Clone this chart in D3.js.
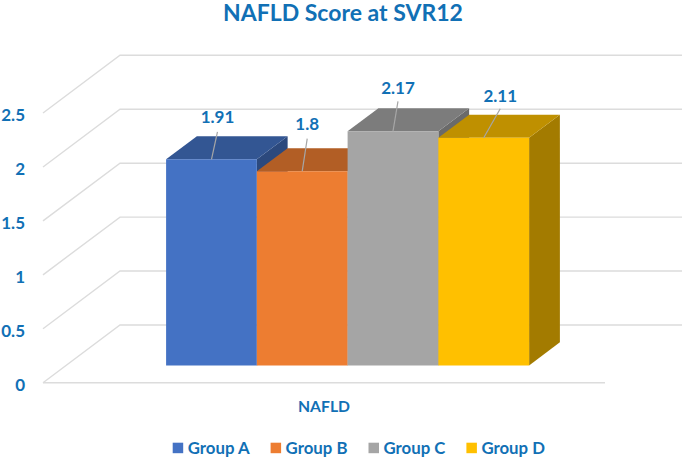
<!DOCTYPE html>
<html>
<head>
<meta charset="utf-8">
<script src="https://cdn.jsdelivr.net/npm/d3@7"></script>
<style>
	html, body { margin: 0; padding: 0; background: #fff; }
	svg { display: block; }
	text { font-family: Lato, "Open Sans", sans-serif; font-weight: 700; fill: #1170b5; }
</style>
</head>
<body>
<div id="chart"></div>
<script>
const title = 'NAFLD Score at SVR12';
const category = 'NAFLD';
const groups = ['Group A', 'Group B', 'Group C', 'Group D'];
const values = [1.91, 1.8, 2.17, 2.11];
const yTicks = [0, 0.5, 1, 1.5, 2, 2.5];
const colors = ['#4472c4', '#ed7d31', '#a5a5a5', '#ffc000'];

const width = 685;
const height = 459;

// floor of the 3d box, front edge to back edge
const floorLeft = 43;
const floorRight = 605;
const depthX = 77;
const depthY = 57.7;
// bars stand in the middle of the floor depth
const barFront = 0.3;
const barBack = 0.7;

const svg = d3
	.select('#chart')
	.append('svg')
	.attr('width', width)
	.attr('height', height);

const y = d3.scaleLinear().domain([0, 2.5]).range([382.7, 113]);
const x = d3.scaleBand().domain(groups).range([143, 506]).padding(0);

// project a point (floor x, value, depth 0..1) onto the page
const project = (px, value, depth) => [
	px + depth * depthX,
	y(value) - depth * depthY,
];

const shade = (color, k) => {
	const c = d3.rgb(color);
	return d3.rgb(c.r * k, c.g * k, c.b * k).formatHex();
};

const line = d3.line();

// gridlines run up the left wall and along the back wall
svg.append('g')
	.selectAll('path')
	.data(yTicks)
	.enter()
	.append('path')
	.attr('d', d =>
		line([
			project(floorLeft, d, 0),
			project(floorLeft, d, 1),
			project(floorRight, d, 1),
		])
	)
	.attr('fill', 'none')
	.attr('stroke', '#dcdcdc')
	.attr('stroke-width', 1.4);

svg.append('path')
	.attr('d', line([project(floorLeft, 0, 0), project(floorRight, 0, 0)]))
	.attr('fill', 'none')
	.attr('stroke', '#dcdcdc')
	.attr('stroke-width', 1.4);

const yAxis = svg
	.append('g')
	.attr('transform', 'translate(25, 2)')
	.call(
		d3
			.axisLeft(y)
			.tickValues(yTicks)
			.tickFormat(d => d)
			.tickSize(0)
			.tickPadding(0)
	);
yAxis.select('.domain').remove();
yAxis.selectAll('text').style('font-size', '17px').style('font-family', null);

const bars = svg
	.append('g')
	.selectAll('g')
	.data(groups)
	.enter()
	.append('g');

const barFace = (g, v, corners) =>
	line(corners.map(c => project(x(g) + c[0] * x.bandwidth(), c[1] * v, c[2]))) + 'Z';

bars.append('path')
	.attr('d', (g, i) =>
		barFace(g, values[i], [
			[1, 0, barFront],
			[1, 0, barBack],
			[1, 1, barBack],
			[1, 1, barFront],
		])
	)
	.attr('fill', (g, i) => shade(colors[i], 0.64));

bars.append('path')
	.attr('d', (g, i) =>
		barFace(g, values[i], [
			[0, 1, barFront],
			[0, 1, barBack],
			[1, 1, barBack],
			[1, 1, barFront],
		])
	)
	.attr('fill', (g, i) => shade(colors[i], 0.75));

bars.append('path')
	.attr('d', (g, i) =>
		barFace(g, values[i], [
			[0, 0, barFront],
			[1, 0, barFront],
			[1, 1, barFront],
			[0, 1, barFront],
		])
	)
	.attr('fill', (g, i) => colors[i]);

// data labels were dragged off the bars, so each has its own leader
const labelShift = [
	[6, -42],
	[5, -47],
	[5, -43.5],
	[16.5, -42],
];
const leaderRise = [27.5, 32.5, 30, 29];

const barCenter = g => project(x(g) + x.bandwidth() / 2, 0, barFront)[0];
const barTop = i => project(0, values[i], barFront)[1];

const labels = svg.append('g').selectAll('g').data(groups).enter().append('g');

labels
	.append('line')
	.attr('x1', g => barCenter(g))
	.attr('y1', (g, i) => barTop(i))
	.attr('x2', (g, i) => barCenter(g) + labelShift[i][0])
	.attr('y2', (g, i) => barTop(i) - leaderRise[i])
	.attr('stroke', '#a6a6a6')
	.attr('stroke-width', 1.2);

labels
	.append('text')
	.attr('x', (g, i) => barCenter(g) + labelShift[i][0])
	.attr('y', (g, i) => barTop(i) + labelShift[i][1])
	.attr('dy', '0.35em')
	.attr('text-anchor', 'middle')
	.style('font-size', '17px')
	.text((g, i) => values[i]);

svg.append('text')
	.attr('x', 343)
	.attr('y', 21)
	.attr('text-anchor', 'middle')
	.style('font-size', '23px')
	.text(title);

svg.append('text')
	.attr('x', 324)
	.attr('y', 407)
	.attr('dy', '0.35em')
	.attr('text-anchor', 'middle')
	.style('font-size', '15.7px')
	.text(category);

const legend = svg
	.append('g')
	.selectAll('g')
	.data(groups)
	.enter()
	.append('g')
	.attr('transform', (g, i) => `translate(${172.7 + i * 97.9}, 442.7)`);

legend
	.append('rect')
	.attr('width', 10.5)
	.attr('height', 10.5)
	.attr('fill', (g, i) => colors[i]);

legend
	.append('text')
	.attr('x', 15)
	.attr('y', 5.5)
	.attr('dy', '0.35em')
	.style('font-size', '16.8px')
	.text(g => g);
</script>
</body>
</html>
